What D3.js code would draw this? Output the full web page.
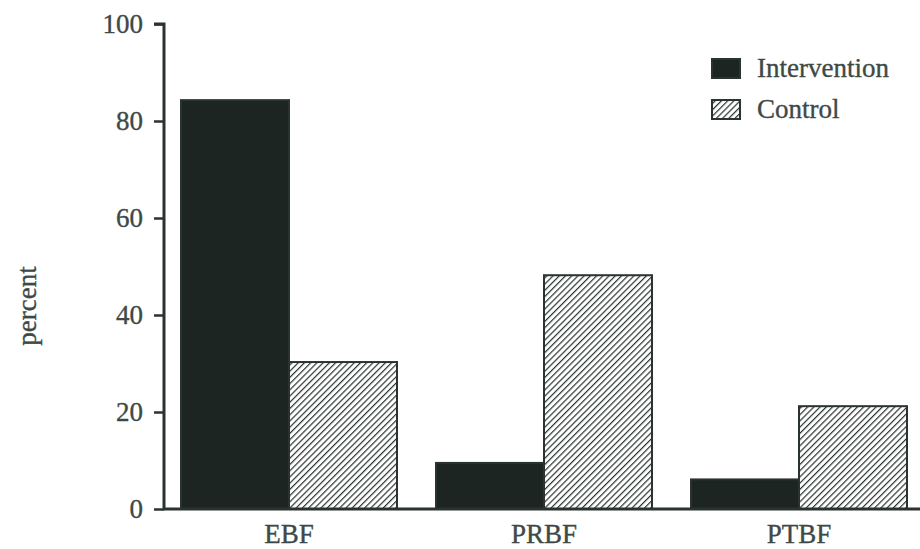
<!DOCTYPE html>
<html><head><meta charset="utf-8">
<script src="https://cdn.jsdelivr.net/npm/d3@7"></script>
<style>html,body{margin:0;padding:0;background:#fff;}</style>
</head><body>
<svg id="c" width="920" height="549"></svg>
<script>
const categories = ["EBF", "PRBF", "PTBF"];
const seriesNames = ["Intervention", "Control"];
const intervention = [84.3, 9.5, 6.1];
const control = [30.3, 48.2, 21.2];
const yTicks = [0, 20, 40, 60, 80, 100];

const ink = "#2a3330";
const textCol = "#3e4946";
const barDark = "#1d2522";
const font = "'Liberation Serif', 'Times New Roman', serif";

const svg = d3.select("#c");
const defs = svg.append("defs");
const pat = defs.append("pattern").attr("id", "hatch")
  .attr("patternUnits", "userSpaceOnUse").attr("width", 4.4).attr("height", 10)
  .attr("patternTransform", "rotate(45)");
pat.append("rect").attr("width", 4.4).attr("height", 10).attr("fill", "#fff");
pat.append("line").attr("x1", 0).attr("y1", 0).attr("x2", 0).attr("y2", 10)
  .attr("stroke", ink).attr("stroke-width", 2.4);

const x0 = d3.scaleBand().domain(categories).range([181, 907]).paddingInner(39/255).paddingOuter(0);
const x1 = d3.scaleBand().domain(seriesNames).range([0, x0.bandwidth()]);
const y = d3.scaleLinear().domain([0, 100]).range([509, 24]);

const data = categories.map((c, i) => ({cat: c, vals: [
  {s: "Intervention", v: intervention[i]}, {s: "Control", v: control[i]}]}));

const g = svg.append("g");
g.selectAll("g.grp").data(data).join("g").attr("class", "grp")
  .attr("transform", d => `translate(${x0(d.cat)},0)`)
  .selectAll("rect").data(d => d.vals).join("rect")
  .attr("x", d => x1(d.s)).attr("width", x1.bandwidth())
  .attr("y", d => y(d.v)).attr("height", d => y(0) - y(d.v))
  .attr("fill", d => d.s === "Intervention" ? barDark : "url(#hatch)")
  .attr("stroke", ink).attr("stroke-width", 2);

function styleText(sel) {
  sel.attr("fill", textCol).style("font-family", font).style("font-size", "27px")
    .attr("stroke", textCol).attr("stroke-width", 0.35);
}

// y axis
const yAxis = svg.append("g").attr("transform", "translate(164,0)")
  .call(d3.axisLeft(y).tickValues(yTicks).tickSize(10).tickPadding(11).tickFormat(d3.format("d")));
yAxis.select(".domain").attr("stroke", ink).attr("stroke-width", 3).attr("d", `M-10,${y(100)}H0V${y(0)}`);
yAxis.selectAll(".tick line").attr("stroke", ink).attr("stroke-width", 2.5);
yAxis.selectAll(".tick text").call(styleText).attr("dy", "0.33em");

// x axis
const xAxis = svg.append("g").attr("transform", `translate(0,${y(0)})`)
  .call(d3.axisBottom(x0).tickSize(0).tickPadding(34));
xAxis.select(".domain").attr("stroke", ink).attr("stroke-width", 3).attr("d", "M163,0H920");
xAxis.selectAll(".tick text").call(styleText).attr("dy", "0");

// y label
svg.append("text").attr("transform", "translate(36,306) rotate(-90)")
  .attr("text-anchor", "middle").call(styleText).text("percent");

// legend
const leg = svg.append("g");
seriesNames.forEach((s, i) => {
  const yy = 59 + i * 41;
  leg.append("rect").attr("x", 712).attr("y", yy).attr("width", 28).attr("height", 19)
    .attr("fill", s === "Intervention" ? barDark : "url(#hatch)").attr("stroke", ink).attr("stroke-width", 2);
  leg.append("text").attr("x", 757).attr("y", yy + 18).call(styleText).text(s);
});
</script>
</body></html>
